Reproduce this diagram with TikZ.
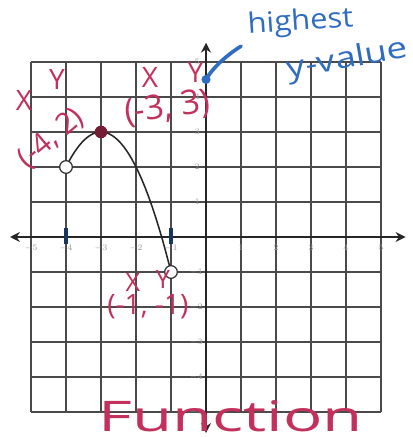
\documentclass[tikz,border=0pt]{standalone}
\usepackage{fontspec}
\setmainfont{Open Sans}
\usetikzlibrary{arrows.meta}
\definecolor{pen}{HTML}{C3305C}
\definecolor{bpen}{HTML}{2F6CC2}
\definecolor{gridc}{HTML}{4A4A4A}
\definecolor{tickc}{HTML}{9A9AA8}
\tikzset{
  gridline/.style={draw=gridc,line width=0.9pt},
  axisline/.style={draw=black!85,line width=1.6pt,{Stealth[length=7pt,width=7pt]}-{Stealth[length=7pt,width=7pt]}},
  ticklab/.style={text=tickc,font=\fontsize{6}{6}\selectfont,inner sep=1pt},
  redlab/.style={text=pen,inner sep=0pt},
  bluelab/.style={text=bpen,inner sep=0pt},
  opendot/.style={circle,draw=black!80,fill=white,line width=0.9pt,minimum size=9pt,inner sep=0pt},
  peakdot/.style={circle,fill=pen!60!black,minimum size=9pt,inner sep=0pt},
  domtick/.style={draw=bpen!50!black,line width=2.4pt}
}
\begin{document}
\begin{tikzpicture}[x=0.875cm,y=0.875cm]
\useasboundingbox[fill=white] (-5.886,-5.714) rectangle (5.886,6.771);
% grid
\foreach \i in {-5,...,5} {
  \draw[gridline] (\i,-5) -- (\i,5);
  \draw[gridline] (-5,\i) -- (5,\i);
}
% axes
\coordinate (xl) at (-5.6,0);
\coordinate (xr) at (5.7,0);
\coordinate (yt) at (0,5.55);
\coordinate (yb) at (0,-5.6);
\draw[axisline] (xl) -- (xr);
\draw[axisline] (yb) -- (yt);
% tick labels
\foreach \i in {-5,-4,-3,-2,-1} {
  \node[ticklab] (tx\i) at (\i,-0.32) {$\i$};
  \node[ticklab] (ty\i) at (-0.28,\i) {$\i$};
}
\foreach \i in {1,...,5} {
  \node[ticklab] (tx\i) at (\i,-0.32) {$\i$};
  \node[ticklab] (ty\i) at (-0.25,\i) {$\i$};
}
% domain marks
\draw[domtick] (-4,-0.2) -- (-4,0.25);
\draw[domtick] (-1,-0.2) -- (-1,0.25);
% curve
\draw[black!85,line width=1.1pt,domain=-4:-1,samples=60,smooth] plot (\x,{3-(\x+3)*(\x+3)});
\node[opendot] (pa) at (-4,2) {};
\node[opendot] (pc) at (-1,-1) {};
\node[peakdot] (pb) at (-3,3) {};
% red annotations
\node[redlab,font=\fontsize{20}{20}\selectfont] (x1) at (-5.2,3.9) {X};
\node[redlab,font=\fontsize{20}{20}\selectfont] (y1) at (-4.26,4.5) {Y};
\node[redlab,font=\fontsize{21}{21}\selectfont,rotate=40] (p1) at (-4.42,2.82) {(-4, 2)};
\node[redlab,font=\fontsize{20}{20}\selectfont] (x2) at (-1.6,4.55) {X};
\node[redlab,font=\fontsize{20}{20}\selectfont] (y2) at (-0.3,4.7) {Y};
\node[redlab,font=\fontsize{24}{24}\selectfont,rotate=8] (p2) at (-1.1,3.68) {(-3, 3)};
\node[redlab,font=\fontsize{18}{18}\selectfont] (x3) at (-2.09,-1.3) {X};
\node[redlab,font=\fontsize{18}{18}\selectfont] (y3) at (-1.23,-1.22) {Y};
\node[redlab,font=\fontsize{20}{20}\selectfont] (p3) at (-1.66,-1.98) {(-1, -1)};
\node[redlab,font=\fontsize{30}{30}\selectfont,xscale=1.55] (fn) at (0.7,-5.12) {Function};
% blue annotations
\node[bluelab,font=\fontsize{20}{20}\selectfont,rotate=4,xscale=1.1] (hi) at (2.7,6.12) {highest};
\node[bluelab,font=\fontsize{21}{21}\selectfont,rotate=10,xscale=1.25] (yv) at (4.05,5.05) {y-value};
\coordinate (bstart) at (1.0,5.45);
\coordinate (bend) at (0.0,4.5);
\draw[bpen,line width=2.6pt,line cap=round] (bstart) .. controls (0.6,5.2) and (0.2,4.85) .. (bend);
\fill[bpen] (bend) circle (0.13);
\end{tikzpicture}
\end{document}
